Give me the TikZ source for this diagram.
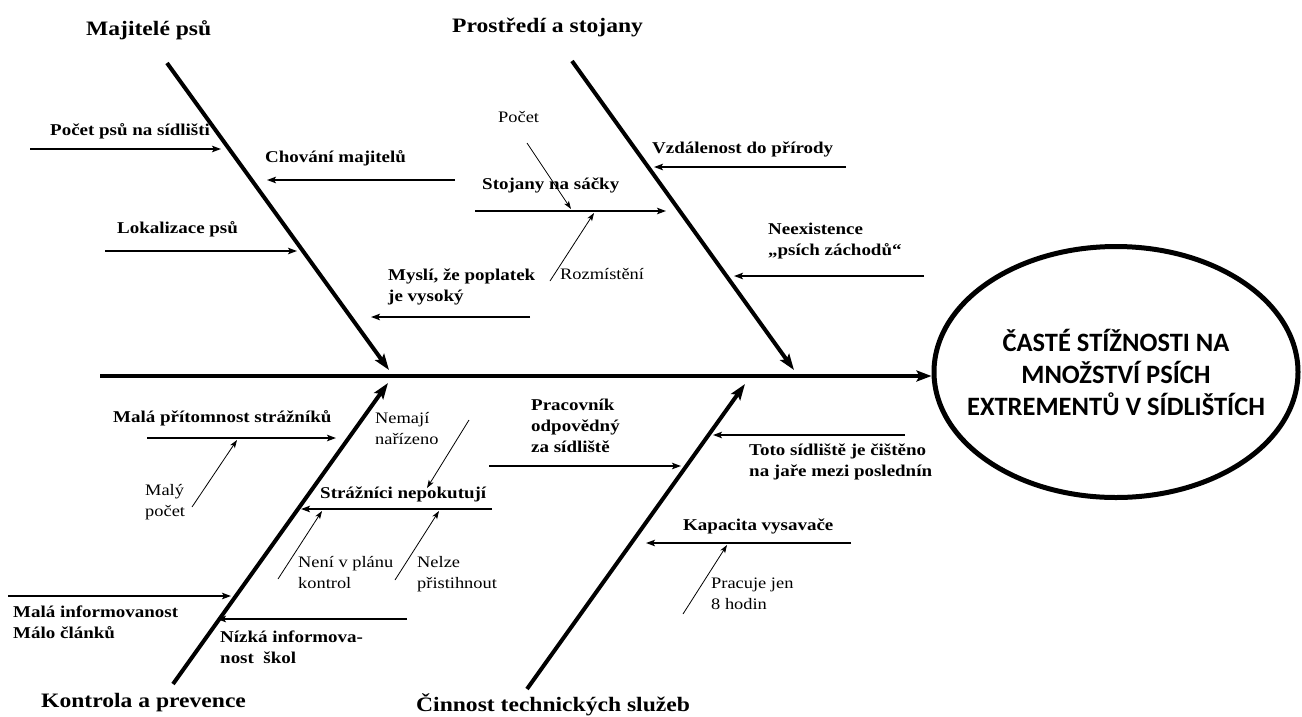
\documentclass[tikz,border=0pt]{standalone}
\usepackage{fontspec}
\setmainfont{Liberation Serif}[FakeStretch=1.15]
\newfontfamily\goalfont{Carlito}
\usetikzlibrary{arrows.meta,shapes.geometric}

\begin{document}
\begin{tikzpicture}[x=1pt,y=-1pt,
  cat/.style={font=\fontsize{20.5}{24}\selectfont\bfseries, inner sep=0pt, anchor=base west},
  cause/.style={font=\fontsize{16.5}{21}\selectfont\bfseries, inner sep=0pt, anchor=base west, align=left},
  subcause/.style={font=\fontsize{16}{21}\selectfont, inner sep=0pt, anchor=base west, align=left},
  spine/.style={line width=4.5pt, -{Stealth[length=15pt,width=11pt,inset=3pt]}},
  rib/.style={line width=4pt, -{Stealth[length=16pt,width=11pt,inset=3pt]}},
  causearrow/.style={line width=1.6pt, -{Stealth[length=9pt,width=6.5pt,inset=2pt]}},
  subarrow/.style={line width=0.8pt, -{Stealth[length=8pt,width=5.5pt,inset=2pt]}},
]
\useasboundingbox (0,0) rectangle (1302,716);

% effect (the outline and its caption are separate nodes so the
% outline keeps its size whatever the caption's width)
\node[draw, ellipse, line width=5pt, minimum width=364pt, minimum height=251pt,
      inner sep=0pt] (goal) at (1116,372) {};
\node[inner sep=0pt, align=center,
      font=\goalfont\fontsize{26.5}{32}\selectfont\bfseries] (goaltext) at (goal.center)
  {ČASTÉ STÍŽNOSTI NA\\MNOŽSTVÍ PSÍCH\\EXTREMENTŮ V SÍDLIŠTÍCH};

% spine
\coordinate (spineL) at (100,376);
\draw[spine] (spineL) -- (goal.west |- spineL);

% category titles
\node[cat] (t1) at (86,35) {Majitelé psů};
\node[cat] (t2) at (452,32) {Prostředí a stojany};
\node[cat] (t3) at (41,707) {Kontrola a prevence};
\node[cat] (t4) at (416,711) {Činnost technických služeb};

% main ribs
\coordinate (r1a) at (167,63);  \coordinate (r1b) at (389,370);
\coordinate (r2a) at (572,61);  \coordinate (r2b) at (794,370);
\coordinate (r3a) at (173,684); \coordinate (r3b) at (388,383);
\coordinate (r4a) at (527,689); \coordinate (r4b) at (745,384);
\draw[rib] (r1a) -- (r1b);
\draw[rib] (r2a) -- (r2b);
\draw[rib] (r3a) -- (r3b);
\draw[rib] (r4a) -- (r4b);

% multi-line labels are placed by the baseline of their last line

% ---- Majitelé psů
\node[cause] (c11) at (50,135) {Počet psů na sídlišti};
\coordinate (a11) at (30,149);  \coordinate (b11) at (221,149);
\draw[causearrow] (a11) -- (b11);

\node[cause] (c12) at (265,162) {Chování majitelů};
\coordinate (a12) at (455,180); \coordinate (b12) at (267,180);
\draw[causearrow] (a12) -- (b12);

\node[cause] (c13) at (117,233) {Lokalizace psů};
\coordinate (a13) at (105,251); \coordinate (b13) at (297,251);
\draw[causearrow] (a13) -- (b13);

\node[cause] (c14) at (388,301) {Myslí, že poplatek\\je vysoký};
\coordinate (a14) at (530,317); \coordinate (b14) at (371,317);
\draw[causearrow] (a14) -- (b14);

% ---- Prostředí a stojany
\node[cause] (c21) at (652,153) {Vzdálenost do přírody};
\coordinate (a21) at (846,167); \coordinate (b21) at (654,167);
\draw[causearrow] (a21) -- (b21);

\node[cause] (c22) at (482,189) {Stojany na sáčky};
\coordinate (a22) at (475,211); \coordinate (b22) at (666,211);
\draw[causearrow] (a22) -- (b22);

\node[subcause] (s221) at (498,122) {Počet};
\coordinate (a221) at (527,143); \coordinate (b221) at (571,209);
\draw[subarrow] (a221) -- (b221);

\node[subcause] (s222) at (560,279) {Rozmístění};
\coordinate (a222) at (550,281); \coordinate (b222) at (594,213);
\draw[subarrow] (a222) -- (b222);

\node[cause] (c23) at (768,255) {Neexistence\\„psích záchodů“};
\coordinate (a23) at (924,276); \coordinate (b23) at (734,276);
\draw[causearrow] (a23) -- (b23);

% ---- Kontrola a prevence
\node[cause] (c31) at (113,422) {Malá přítomnost strážníků};
\coordinate (a31) at (147,438); \coordinate (b31) at (336,438);
\draw[causearrow] (a31) -- (b31);

\node[subcause] (s311) at (145,516) {Malý\\počet};
\coordinate (a311) at (192,507); \coordinate (b311) at (237,440);
\draw[subarrow] (a311) -- (b311);

\node[cause] (c32) at (320,498) {Strážníci nepokutují};
\coordinate (a32) at (492,509); \coordinate (b32) at (301,509);
\draw[causearrow] (a32) -- (b32);

\node[subcause] (s321) at (375,444) {Nemají\\nařízeno};
\coordinate (a321) at (469,420); \coordinate (b321) at (427,488);
\draw[subarrow] (a321) -- (b321);

\node[subcause] (s322) at (298,588) {Není v plánu\\kontrol};
\coordinate (a322) at (278,579); \coordinate (b322) at (322,511);
\draw[subarrow] (a322) -- (b322);

\node[subcause] (s323) at (417,588) {Nelze\\přistihnout};
\coordinate (a323) at (395,580); \coordinate (b323) at (439,511);
\draw[subarrow] (a323) -- (b323);

\node[cause] (c33) at (13,638) {Malá informovanost\\Málo článků};
\coordinate (a33) at (8,596);   \coordinate (b33) at (231,596);
\draw[causearrow] (a33) -- (b33);

\node[cause] (c34) at (220,663) {Nízká informova-\\nost~~škol};
\coordinate (a34) at (407,619); \coordinate (b34) at (217,619);
\draw[causearrow] (a34) -- (b34);

% ---- Činnost technických služeb
\node[cause] (c41) at (531,452) {Pracovník\\odpovědný\\za sídliště};
\coordinate (a41) at (489,466); \coordinate (b41) at (681,466);
\draw[causearrow] (a41) -- (b41);

\node[cause] (c42) at (749,476) {Toto sídliště je čištěno\\na jaře mezi poslednín};
\coordinate (a42) at (905,435); \coordinate (b42) at (713,435);
\draw[causearrow] (a42) -- (b42);

\node[cause] (c43) at (683,530) {Kapacita vysavače};
\coordinate (a43) at (851,543); \coordinate (b43) at (646,543);
\draw[causearrow] (a43) -- (b43);

\node[subcause] (s431) at (711,609) {Pracuje jen\\8 hodin};
\coordinate (a431) at (683,614); \coordinate (b431) at (727,545);
\draw[subarrow] (a431) -- (b431);

\end{tikzpicture}
\end{document}
